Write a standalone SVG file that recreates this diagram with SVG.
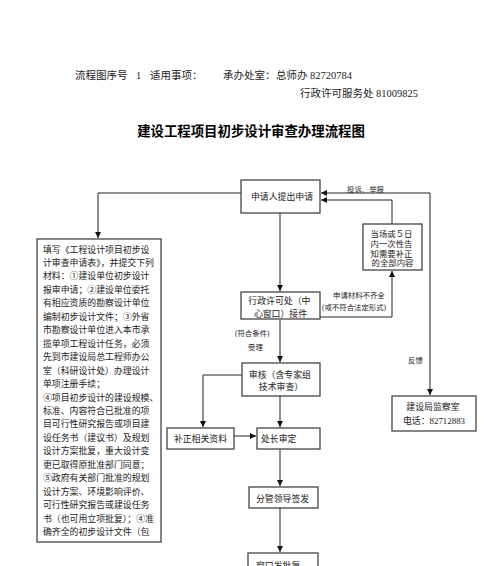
<svg xmlns="http://www.w3.org/2000/svg" width="500" height="566" viewBox="0 0 500 566">
<style>
text{font-family:"Liberation Serif","Noto Sans CJK SC",serif;fill:#222}
.hd{font-size:10.5px}
.tt{font-family:"Noto Sans CJK SC",sans-serif;font-size:13.4px;font-weight:bold;fill:#000}
.bx{font-size:8.9px}
.nt{font-size:8.4px}
.lb{font-size:7.4px}
.box{fill:#fff;stroke:#444;stroke-width:1.3}
.ln{fill:none;stroke:#222;stroke-width:1}
</style>
<defs>
<marker id="ar" viewBox="0 0 6 6" refX="6" refY="3" markerWidth="6" markerHeight="6" markerUnits="userSpaceOnUse" orient="auto">
<path d="M0,0L6,3L0,6z" fill="#111"/>
</marker>
</defs>
<rect width="500" height="566" fill="#fff"/>
<g id="header">
<text class="hd" x="75" y="79">流程图序号</text>
<text class="hd" x="136" y="79">1</text>
<text class="hd" x="150" y="79">适用事项：</text>
<text class="hd" x="223" y="79">承办处室：</text>
<text class="hd" x="276" y="79">总师办 82720784</text>
<text class="hd" x="300" y="97">行政许可服务处 81009825</text>
<text class="tt" x="251" y="136" text-anchor="middle">建设工程项目初步设计审查办理流程图</text>
</g>
<g id="connectors">
<path class="ln" d="M241,193H98V238" marker-end="url(#ar)"/>
<path class="ln" d="M430,193V395" marker-end="url(#ar)"/>
<path class="ln" d="M430,193H321" marker-end="url(#ar)"/>
<path class="ln" d="M392,224V200H321" marker-end="url(#ar)"/>
<path class="ln" d="M280,213V291" marker-end="url(#ar)"/>
<path class="ln" d="M320,317H392V271" marker-end="url(#ar)"/>
<path class="ln" d="M280,320V362" marker-end="url(#ar)"/>
<path class="ln" d="M242,375H203V427" marker-end="url(#ar)"/>
<path class="ln" d="M280,396V427" marker-end="url(#ar)"/>
<path class="ln" d="M234,436H256" marker-end="url(#ar)"/>
<path class="ln" d="M280,449V486" marker-end="url(#ar)"/>
<path class="ln" d="M280,508V552" marker-end="url(#ar)"/>
<text class="lb" x="347" y="191.5">投诉、举报</text>
<text class="lb" x="333" y="298">申请材料不齐全</text>
<text class="lb" x="322" y="310">(或不符合法定形式)</text>
<text class="lb" x="235" y="336">(符合条件)</text>
<text class="lb" x="248" y="350">受理</text>
<text class="lb" x="408" y="363">反馈</text>
</g>
<g id="n-apply">
<rect class="box" x="241" y="180" width="79" height="33"/>
<text class="bx" x="251" y="200">申请人提出申请</text>
</g>
<g id="n-materials">
<rect class="box" x="37" y="239" width="124" height="303"/>
<text class="bx" x="43">
<tspan x="43" y="252.5">填写《工程设计项目初步设</tspan>
<tspan x="43" y="266">计审查申请表》，并提交下列</tspan>
<tspan x="43" y="279.4">材料：①建设单位初步设计</tspan>
<tspan x="43" y="292.9">报审申请；②建设单位委托</tspan>
<tspan x="43" y="306.3">有相应资质的勘察设计单位</tspan>
<tspan x="43" y="319.8">编制初步设计文件；③外省</tspan>
<tspan x="43" y="333.2">市勘察设计单位进入本市承</tspan>
<tspan x="43" y="346.7">揽单项工程设计任务，必须</tspan>
<tspan x="43" y="360.1">先到市建设局总工程师办公</tspan>
<tspan x="43" y="373.6">室（科研设计处）办理设计</tspan>
<tspan x="43" y="387">单项注册手续；</tspan>
<tspan x="43" y="400.5">④项目初步设计的建设规模、</tspan>
<tspan x="43" y="413.9">标准、内容符合已批准的项</tspan>
<tspan x="43" y="427.4">目可行性研究报告或项目建</tspan>
<tspan x="43" y="440.8">设任务书（建议书）及规划</tspan>
<tspan x="43" y="454.3">设计方案批复，重大设计变</tspan>
<tspan x="43" y="467.7">更已取得原批准部门同意；</tspan>
<tspan x="43" y="481.2">⑤政府有关部门批准的规划</tspan>
<tspan x="43" y="494.6">设计方案、环境影响评价、</tspan>
<tspan x="43" y="508.1">可行性研究报告或建设任务</tspan>
<tspan x="43" y="521.5">书（也可用立项批复）；④准</tspan>
<tspan x="43" y="535">确齐全的初步设计文件（包</tspan>
</text>
</g>
<g id="n-notify">
<rect class="box" x="363" y="224" width="59" height="46"/>
<text class="nt" text-anchor="middle">
<tspan x="392.5" y="237">当场或５日</tspan>
<tspan x="392.5" y="246.8">内一次性告</tspan>
<tspan x="392.5" y="256.6">知需要补正</tspan>
<tspan x="392.5" y="266.4">的全部内容</tspan>
</text>
</g>
<g id="n-window">
<rect class="box" x="241" y="292" width="79" height="27"/>
<text class="bx" text-anchor="middle">
<tspan x="280.5" y="304">行政许可处（中</tspan>
<tspan x="280.5" y="316.5">心窗口）接件</tspan>
</text>
</g>
<g id="n-review">
<rect class="box" x="242" y="363" width="78" height="33"/>
<text class="bx" text-anchor="middle">
<tspan x="281" y="377.5">审核（含专家组</tspan>
<tspan x="281" y="389.5">技术审查）</tspan>
</text>
</g>
<g id="n-supplement">
<rect class="box" x="167" y="428" width="67" height="21"/>
<text class="bx" x="200.5" y="441.5" text-anchor="middle">补正相关资料</text>
</g>
<g id="n-chief">
<rect class="box" x="257" y="428" width="63" height="21"/>
<text class="bx" x="261" y="441.5">处长审定</text>
</g>
<g id="n-sign">
<rect class="box" x="249" y="487" width="69" height="21"/>
<text class="bx" x="256" y="502">分管领导签发</text>
</g>
<g id="n-reply">
<rect class="box" x="248" y="553" width="70" height="24"/>
<text class="bx" x="256" y="569">窗口发批复</text>
</g>
<g id="n-supervision">
<rect class="box" x="392" y="396" width="84" height="35"/>
<text class="bx" text-anchor="middle">
<tspan x="434" y="410">建设局监察室</tspan>
<tspan x="434" y="423.5">电话：82712883</tspan>
</text>
</g>
</svg>
